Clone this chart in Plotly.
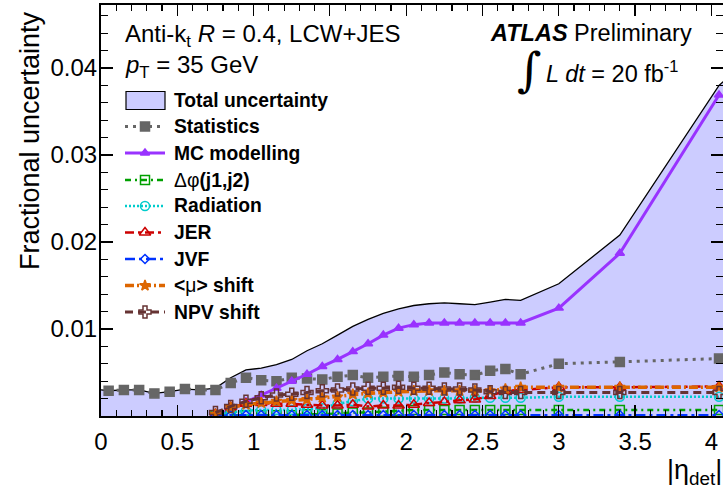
import plotly.graph_objects as go

# ---------------- data ----------------
eta_all = [0.05, 0.15, 0.25, 0.35, 0.45, 0.55, 0.65, 0.75, 0.85, 0.95, 1.05, 1.15,
           1.25, 1.35, 1.45, 1.55, 1.65, 1.75, 1.85, 1.95, 2.05, 2.15, 2.25, 2.35,
           2.45, 2.55, 2.65, 2.75, 3.0, 3.4, 4.05]
eta_sys = [0.75, 0.85, 0.95, 1.05, 1.15, 1.25, 1.35, 1.45, 1.55, 1.65, 1.75, 1.85,
           1.95, 2.05, 2.15, 2.25, 2.35, 2.45, 2.55, 2.65, 2.75, 3.0, 3.4, 4.05]
eta_total = [0.0] + eta_all + [4.1]

total = [0.0030, 0.0029, 0.0030, 0.0030, 0.0026, 0.0028, 0.0031, 0.0030, 0.0032, 0.0044,
         0.0053, 0.0055, 0.0059, 0.0065, 0.0075, 0.0083, 0.0093, 0.0103, 0.0111, 0.0118,
         0.0123, 0.0127, 0.0129, 0.0130, 0.0129, 0.0128, 0.0131, 0.0134, 0.0133, 0.0152,
         0.0208, 0.0380, 0.0388]
stats = [0.0029, 0.0030, 0.0030, 0.0026, 0.0028, 0.0031, 0.0030, 0.0030, 0.0038, 0.0044,
         0.0041, 0.0040, 0.0044, 0.0043, 0.0042, 0.0045, 0.0047, 0.0044, 0.0045, 0.0046,
         0.0045, 0.0047, 0.0050, 0.0048, 0.0047, 0.0052, 0.0054, 0.0048, 0.0060, 0.0062,
         0.0066]
mc_modelling = [0.0001, 0.0007, 0.0016, 0.0024, 0.0032, 0.0040, 0.0048, 0.0057, 0.0065,
                0.0074, 0.0083, 0.0093, 0.0101, 0.0105, 0.0107, 0.0107, 0.0107, 0.0107,
                0.0107, 0.0107, 0.0107, 0.0124, 0.0187, 0.0369]
dphi = [0.0000, 0.0001, 0.0001, 0.0001, 0.0001, 0.0001, 0.0002, 0.0002, 0.0003, 0.0004,
        0.0004, 0.0005, 0.0006, 0.0007, 0.0007, 0.0007, 0.0007, 0.0007, 0.0007, 0.0007,
        0.0007, 0.0007, 0.0007, 0.0007]
radiation = [0.0001, 0.0004, 0.0006, 0.0007, 0.0007, 0.0007, 0.0008, 0.0009, 0.0014,
             0.0017, 0.0020, 0.0020, 0.0020, 0.0020, 0.0020, 0.0020, 0.0020, 0.0021,
             0.0021, 0.0021, 0.0021, 0.0022, 0.0022, 0.0022]
jer = [0.0002, 0.0010, 0.0014, 0.0015, 0.0014, 0.0014, 0.0013, 0.0012, 0.0012, 0.0013,
       0.0011, 0.0012, 0.0012, 0.0013, 0.0015, 0.0016, 0.0018, 0.0019, 0.0023, 0.0029,
       0.0030, 0.0033, 0.0033, 0.0034]
jvf = [0.0000, 0.0001, 0.0001, 0.0001, 0.0001, 0.0001, 0.0001, 0.0001, 0.0001, 0.0001,
       0.0001, 0.0001, 0.0001, 0.0001, 0.0001, 0.0001, 0.0001, 0.0001, 0.0001, 0.0001,
       0.0001, 0.0001, 0.0001, 0.0001]
mu_shift = [0.0002, 0.0010, 0.0013, 0.0015, 0.0017, 0.0018, 0.0019, 0.0021, 0.0022, 0.0025,
            0.0026, 0.0027, 0.0028, 0.0029, 0.0029, 0.0029, 0.0029, 0.0029, 0.0029, 0.0031,
            0.0033, 0.0033, 0.0033, 0.0033]
npv_shift = [0.0004, 0.0011, 0.0017, 0.0021, 0.0024, 0.0025, 0.0027, 0.0029, 0.0030, 0.0031,
             0.0032, 0.0032, 0.0033, 0.0032, 0.0032, 0.0031, 0.0031, 0.0030, 0.0028, 0.0027,
             0.0027, 0.0027, 0.0027, 0.0027]

x_tick_vals = [0, 0.5, 1, 1.5, 2, 2.5, 3, 3.5, 4]
x_tick_text = ["0", "0.5", "1", "1.5", "2", "2.5", "3", "3.5", "4"]
y_tick_vals = [0.01, 0.02, 0.03, 0.04]
y_tick_text = ["0.01", "0.02", "0.03", "0.04"]

# ---------------- styles ----------------
FONT = "Liberation Sans, Arial, Helvetica, sans-serif"
W, H = 723, 493
L, R, T, B = 101, 0, 5, 77
PW, PH = W - L - R, H - T - B


def px(x):
    return (x - L) / PW


def py(y):
    return (H - B - y) / PH


series = [
    # name (legend html), x, y, color, dash, width, marker symbol, marker size
    ("<b>Statistics</b>", eta_all, stats, "#666666", "3px,5px", 3, "square", 9),
    ("<b>MC modelling</b>", eta_sys, mc_modelling, "#9933ff", "solid", 3, "triangle-up", 8),
    ("Δφ<b>(j1,j2)</b>", eta_sys, dphi, "#00a000", "6px,4px,2px,4px", 2.5, "square-open", 9),
    ("<b>Radiation</b>", eta_sys, radiation, "#00cccc", "2px,2px", 2.5, "circle-open", 9),
    ("<b>JER</b>", eta_sys, jer, "#cc0000", "9px,4px,3px,4px", 2.5, "triangle-up-open", 10),
    ("<b>JVF</b>", eta_sys, jvf, "#0033ff", "10px,4px,3px,4px", 2.5, "diamond-open", 7),
    ("<b>&lt;</b>μ<b>&gt; shift</b>", eta_sys, mu_shift, "#dd6600", "9px,3px,2px,3px", 3.5, "star", 8),
    ("<b>NPV shift</b>", eta_sys, npv_shift, "#663333", "8px,5px", 3, "cross-open", 10),
]

fig = go.Figure()

# total uncertainty band
fig.add_trace(go.Scatter(
    x=eta_total, y=total, mode="lines", fill="tozeroy",
    fillcolor="#ccccff", line=dict(color="black", width=1.3),
    showlegend=False, hoverinfo="skip"))

for name, xs, ys, col, dash, wid, sym, msz in series:
    fig.add_trace(go.Scatter(
        x=xs, y=ys, mode="lines+markers",
        line=dict(color=col, dash=dash, width=wid),
        marker=dict(symbol=sym, size=msz, color=col,
                    line=dict(color=col, width=1.5)),
        showlegend=False, cliponaxis=True))

# ---------------- manual legend on a pixel-space overlay ----------------
leg_y = [100.5, 126.5, 153, 180, 206, 232.5, 259, 285.5, 312]
leg_x0, leg_x1, leg_xt = 125, 165, 173
annotations = []
shapes = []
shapes.append(dict(type="rect", xref="x2", yref="y2", x0=126, x1=165,
                   y0=leg_y[0] - 9, y1=leg_y[0] + 9,
                   fillcolor="#ccccff", line=dict(color="black", width=1.2),
                   layer="above"))


def txt(x, y, text, size, xanchor="left", yanchor="middle", angle=0, family=FONT):
    annotations.append(dict(xref="paper", yref="paper", x=px(x), y=py(y), text=text,
                            showarrow=False, xanchor=xanchor, yanchor=yanchor,
                            textangle=angle, borderpad=0,
                            font=dict(family=family, size=size, color="black")))


txt(leg_xt, leg_y[0], "<b>Total uncertainty</b>", 19.3)
for (name, xs, ys, col, dash, wid, sym, msz), yy in zip(series, leg_y[1:]):
    fig.add_trace(go.Scatter(
        x=[leg_x0, (leg_x0 + leg_x1) / 2, leg_x1], y=[yy, yy, yy],
        xaxis="x2", yaxis="y2", mode="lines",
        line=dict(color=col, dash=dash, width=wid),
        showlegend=False, hoverinfo="skip"))
    fig.add_trace(go.Scatter(
        x=[(leg_x0 + leg_x1) / 2], y=[yy], xaxis="x2", yaxis="y2", mode="markers",
        marker=dict(symbol=sym, size=msz, color=col, line=dict(color=col, width=1.5)),
        showlegend=False, hoverinfo="skip"))
    txt(leg_xt, yy, name, 19.3)

# ---------------- texts ----------------
txt(124, 35, "Anti-k<sub>t</sub> <i>R</i> = 0.4, LCW+JES", 24)
txt(124, 66, "<i>p</i><sub>T</sub> = 35 GeV", 24)
txt(693, 33, "<b><i>ATLAS</i></b> Preliminary", 23.5, xanchor="right")
txt(529, 69, "∫", 47, xanchor="center", family="DejaVu Serif, Liberation Serif, serif")
txt(545, 72, "<i>L dt</i> = 20 fb<sup>-1</sup>", 23.5)
txt(30, 141, "Fractional uncertainty", 27, xanchor="center", angle=-90)
txt(723, 472, "|η<sub>det</sub>|", 27, xanchor="right")

xmax = PW / 152.6
ymax = PH / 8700.0

fig.update_layout(
    width=W, height=H,
    margin=dict(l=L, r=R, t=T, b=B, pad=0, autoexpand=False),
    paper_bgcolor="white", plot_bgcolor="white",
    font=dict(family=FONT, size=23, color="black"),
    showlegend=False,
    xaxis=dict(range=[0, xmax], tickmode="array", tickvals=x_tick_vals,
               ticktext=x_tick_text, ticks="inside", ticklen=11, tickwidth=1.2,
               tickcolor="black", showline=True, linecolor="black", linewidth=2,
               mirror="allticks", showgrid=False, zeroline=False, automargin=False,
               tickfont=dict(family=FONT, size=24), ticklabelstandoff=3,
               minor=dict(dtick=0.1, tick0=0, ticks="inside", ticklen=6,
                          tickwidth=1.2, tickcolor="black", showgrid=False)),
    yaxis=dict(range=[0, ymax], tickmode="array", tickvals=y_tick_vals,
               ticktext=y_tick_text, ticks="inside", ticklen=12, tickwidth=1.2,
               tickcolor="black", showline=True, linecolor="black", linewidth=2,
               mirror="allticks", showgrid=False, zeroline=False, automargin=False,
               tickfont=dict(family=FONT, size=24), ticklabelstandoff=-3,
               minor=dict(dtick=0.002, tick0=0, ticks="inside", ticklen=7,
                          tickwidth=1.2, tickcolor="black", showgrid=False)),
    xaxis2=dict(overlaying="x", range=[L, W - R], visible=False, fixedrange=True,
                automargin=False),
    yaxis2=dict(overlaying="y", range=[H - B, T], visible=False, fixedrange=True,
                automargin=False),
    annotations=annotations,
    shapes=shapes,
)

fig.write_html(
    "out.html",
    config={"displayModeBar": False, "staticPlot": True},
    post_script="document.body.style.margin='0';document.body.style.padding='0';"
                "document.documentElement.style.overflow='hidden';")
